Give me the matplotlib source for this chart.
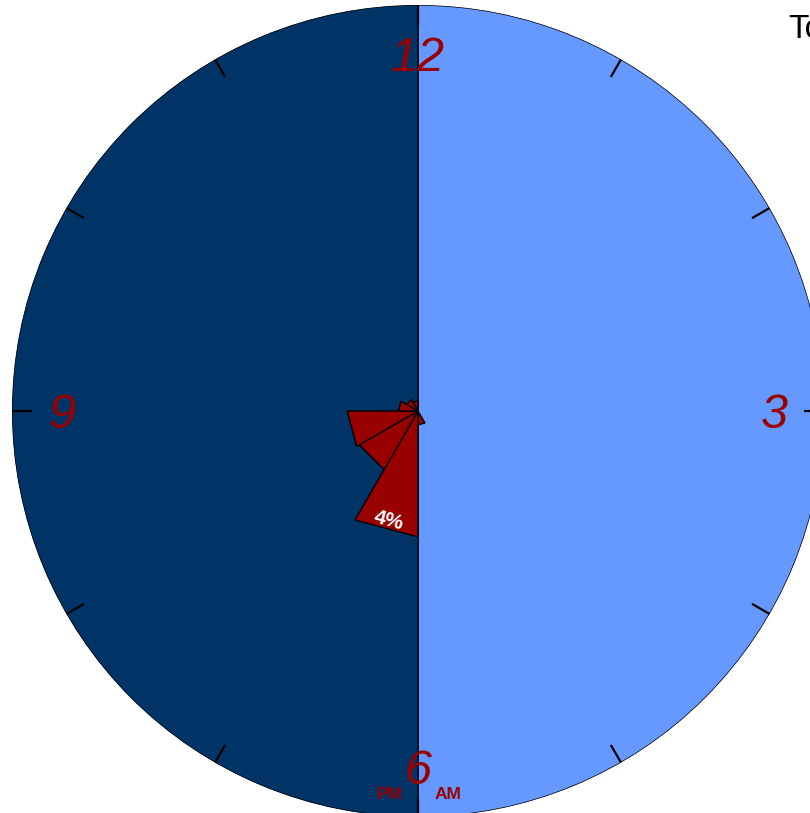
import numpy as np
import matplotlib
matplotlib.use("Agg")
import matplotlib.pyplot as plt

# share of events per clock hour (percent)
am_hours = ["12-1", "1-2", "2-3", "3-4", "4-5", "5-6"]
am_share = [0, 0, 0, 0, 0, 0.44]
pm_hours = ["6-7", "7-8", "8-9", "9-10", "10-11", "11-12"]
pm_share = [4.0, 2.15, 2.25, 0.62, 0.42, 0.32]
clock_labels = {0: "12", 3: "3", 6: "6", 9: "9"}
r_max = 12.9

light = "#6699FF"
dark = "#003366"
red = "#990000"

fig = plt.figure(figsize=(8.1, 8.13), dpi=100)
fig.patch.set_facecolor("white")

# polar axes centred on the clock face
ax = fig.add_axes([12 / 810, -4 / 813, 812 / 810, 812 / 813], projection="polar")
ax.set_theta_zero_location("N")
ax.set_theta_direction(-1)
ax.set_ylim(0, r_max)
ax.grid(False)
ax.set_xticks([])
ax.set_yticks([])
ax.spines["polar"].set_visible(False)
ax.patch.set_alpha(0)

# AM half (right) and PM half (left)
ax.bar([0, np.pi], [r_max, r_max], width=np.pi, align="edge",
       color=[light, dark], edgecolor="black", linewidth=1)

# hour ticks
step = np.pi / 6
for h in range(12):
    ax.plot([h * step, h * step], [0.95 * r_max, r_max], color="black",
            lw=1.6, solid_capstyle="butt")

# hour wedges drawn as triangles
slots = list(range(6)) + list(range(6, 12))
values = am_share + pm_share
for slot, v in zip(slots, values):
    if v <= 0:
        continue
    t0, t1 = slot * step, (slot + 1) * step
    ax.fill([t0, t0, t1, t0], [0, v, v, 0], facecolor=red,
            edgecolor="black", linewidth=1)

# label of the biggest wedge
big = int(np.argmax(values))
big_v = values[big]
ax.text((slots[big] + 0.5) * step, 0.9 * big_v, "%d%%" % round(big_v),
        color="white", fontsize=15, fontweight="bold", family="Liberation Sans",
        ha="center", va="center", rotation=-15)

# clock numbers
for h, lab in clock_labels.items():
    ax.annotate(lab, (h * step, 0.877 * r_max), xytext=(0, -4),
                textcoords="offset pixels", color=red, fontsize=35,
                style="italic", family="Liberation Sans",
                ha="center", va="center")

fig.text(390 / 810, 1 - 794 / 813, "PM", color=red, fontsize=12.5,
         fontweight="bold", family="Liberation Sans", ha="center", va="center")
fig.text(448 / 810, 1 - 794 / 813, "AM", color=red, fontsize=12.5,
         fontweight="bold", family="Liberation Sans", ha="center", va="center")

fig.text(788 / 810, 1 - 30 / 813, "To", color="black", fontsize=24,
         family="Liberation Sans", ha="left", va="center")

fig.savefig("out.png", dpi=100)
